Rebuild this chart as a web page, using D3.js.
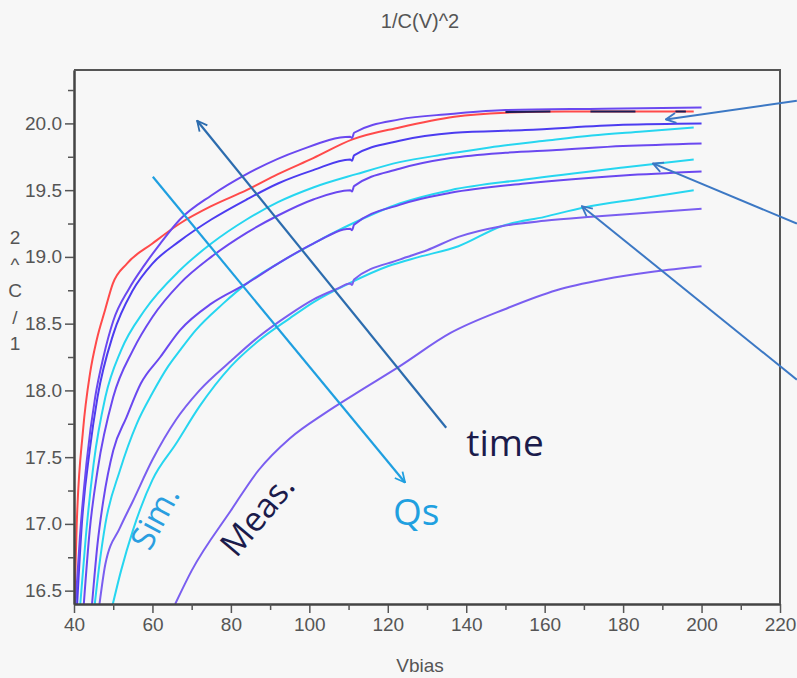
<!DOCTYPE html>
<html>
<head>
<meta charset="utf-8">
<script src="https://cdn.jsdelivr.net/npm/d3@7"></script>
<style>
  html, body { margin: 0; padding: 0; background: #f7f7f7; }
  svg { display: block; }
</style>
</head>
<body>
<svg id="chart"></svg>
<script>
const width = 797, height = 678;
const margin = { top: 70, right: 17, bottom: 74, left: 74 };
const plotWidth = width - margin.left - margin.right;
const plotHeight = height - margin.top - margin.bottom;

// axes
const xDomain = [40, 220];
const yDomain = [16.4, 20.4];
const xMajorTicks = [40, 60, 80, 100, 120, 140, 160, 180, 200, 220];
const xMinorTicks = [50, 70, 90, 110, 130, 150, 170, 190, 210];
const yMajorTicks = [16.5, 17.0, 17.5, 18.0, 18.5, 19.0, 19.5, 20.0];
const yMinorTicks = [16.75, 17.25, 17.75, 18.25, 18.75, 19.25, 19.75, 20.25];
const yLabelChars = ["2", "^", "C", "/", "1"];

// curves [Vbias, 1/C^2]
const redSim = [[40.1,16.4],[40.7,17.0],[42.3,17.7],[44.1,18.13],[45.8,18.38],[47.9,18.6],[49.9,18.8],[53.5,18.95],[60,19.1],[67,19.25],[75,19.38],[84,19.5],[92,19.62],[101,19.74],[111,19.88],[123,19.97],[137,20.05],[150,20.08],[165,20.09],[180,20.09],[198,20.09]];
const measB = [[40.4,16.4],[41.5,16.9],[43.2,17.46],[45.4,17.95],[47.5,18.25],[50,18.52],[54,18.76],[58,18.94],[62,19.1],[67,19.28],[75,19.46],[84,19.62],[97.6,19.8],[110.4,19.9],[110.9,19.89],[111.4,19.93],[123,20.03],[136,20.07],[150,20.1],[175,20.11],[200,20.12]];
const measC = [[40.8,16.4],[42,17.0],[44,17.55],[46,17.95],[50,18.42],[55,18.75],[60,18.95],[67,19.12],[75,19.28],[84,19.43],[92,19.55],[101,19.65],[110.4,19.73],[110.9,19.72],[111.4,19.76],[123,19.87],[137,19.93],[155,19.95],[180,19.99],[200,20.0]];
const simD = [[41.6,16.4],[43,16.9],[45,17.45],[48,17.95],[52,18.3],[58,18.6],[67,18.9],[75,19.1],[84,19.28],[92,19.41],[101,19.52],[112,19.62],[123,19.71],[135,19.77],[146,19.82],[160,19.87],[172,19.91],[185,19.94],[198,19.97]];
const measE = [[42.5,16.4],[44,16.95],[46,17.4],[50,17.95],[55,18.3],[60,18.55],[67,18.8],[75,19.0],[84,19.18],[92,19.31],[101,19.43],[110.4,19.5],[110.9,19.49],[111.4,19.53],[123,19.66],[136,19.74],[150,19.78],[163,19.8],[180,19.83],[200,19.85]];
const simF = [[45.3,16.4],[46.5,16.7],[48,17.0],[51.7,17.4],[56,17.75],[60,17.98],[64,18.18],[67,18.3],[71,18.45],[78,18.65],[84,18.8],[92,18.95],[101,19.1],[111,19.25],[123,19.4],[136,19.5],[155,19.58],[180,19.67],[198,19.73]];
const measG = [[44.6,16.4],[46,16.85],[47.5,17.18],[50,17.55],[53.4,17.8],[57,18.05],[62,18.25],[67,18.45],[75,18.65],[84,18.8],[92,18.95],[101,19.1],[110.4,19.21],[110.9,19.2],[111.4,19.24],[123,19.39],[136,19.48],[155,19.55],[180,19.61],[200,19.64]];
const simH = [[49.9,16.4],[52,16.65],[55,16.95],[60,17.33],[66,17.6],[72,17.88],[80,18.18],[87,18.37],[95,18.54],[101,18.66],[110,18.8],[120,18.93],[128,19.0],[138,19.08],[149,19.23],[160,19.3],[170,19.37],[185,19.44],[198,19.5]];
const measI = [[46.5,16.4],[48,16.7],[51.7,16.97],[55,17.17],[60,17.48],[66,17.78],[72,18.0],[80,18.22],[87,18.4],[95,18.57],[101,18.68],[107,18.76],[110.4,18.8],[110.9,18.79],[111.4,18.83],[123,18.98],[130,19.05],[138,19.15],[149,19.23],[160,19.27],[172,19.3],[186,19.33],[200,19.36]];
const measJ = [[65.8,16.4],[70,16.65],[80,17.1],[87,17.4],[95,17.64],[104,17.83],[112,17.98],[123,18.18],[136,18.43],[150,18.61],[163,18.75],[175,18.83],[188,18.89],[200,18.93]];
const navyTop = [[150,20.085],[165,20.09],[180,20.09],[196,20.09]];

// annotation arrows [x1, y1, x2, y2] in data units, head at (x2, y2)
const timeArrow = [134.9, 17.72, 71.4, 20.02];
const qsArrow = [60.1, 19.60, 124.4, 17.31];
const sideArrows = [
  [224.3, 20.17, 190.9, 20.03],
  [224.3, 19.25, 187.6, 19.70],
  [224.3, 18.08, 169.5, 19.38]
];

const purple = "#6a48f0", bluePurple = "#4c3cf0", lightPurple = "#7a5ef0";
const cyan = "#26d6f0", red = "#ff4a4a", navy = "#1c1c55";

const curves = [
  { data: measJ, color: lightPurple },
  { data: simH, color: cyan },
  { data: measI, color: lightPurple },
  { data: simF, color: cyan },
  { data: measG, color: purple },
  { data: measE, color: purple },
  { data: simD, color: cyan },
  { data: measC, color: bluePurple },
  { data: redSim, color: red },
  { data: measB, color: purple },
  { data: navyTop, color: navy, dash: "45,40" }
];

const svg = d3.select("#chart")
  .attr("width", width)
  .attr("height", height)
  .style("background", "#f7f7f7");

const x = d3.scaleLinear().domain(xDomain).range([margin.left, margin.left + plotWidth]);
const y = d3.scaleLinear().domain(yDomain).range([margin.top + plotHeight, margin.top]);

svg.append("defs").append("clipPath")
  .attr("id", "plot-clip")
  .append("rect")
  .attr("x", margin.left)
  .attr("y", margin.top)
  .attr("width", plotWidth)
  .attr("height", plotHeight);

const markerDefs = svg.select("defs");
[["head-dark", "#2c6cae"], ["head-light", "#1f9fe0"], ["head-side", "#3c78c4"]].forEach(([id, c]) => {
  markerDefs.append("marker")
    .attr("id", id)
    .attr("viewBox", "0 0 12 12")
    .attr("refX", 11).attr("refY", 6)
    .attr("markerWidth", 12).attr("markerHeight", 12)
    .attr("markerUnits", "userSpaceOnUse")
    .attr("orient", "auto")
    .append("path")
    .attr("d", "M1,1 L11,6 L1,11")
    .attr("fill", "none")
    .attr("stroke", c)
    .attr("stroke-width", 1.8);
});

// title
svg.append("text")
  .attr("x", 420).attr("y", 28)
  .attr("text-anchor", "middle")
  .attr("font-family", "Liberation Sans, Arial, sans-serif")
  .attr("font-size", 20)
  .attr("fill", "#555")
  .text("1/C(V)^2");

// curves
const line = d3.line().x(d => x(d[0])).y(d => y(d[1])).curve(d3.curveMonotoneX);
svg.append("g")
  .attr("clip-path", "url(#plot-clip)")
  .selectAll("path")
  .data(curves)
  .join("path")
  .attr("d", d => line(d.data))
  .attr("fill", "none")
  .attr("stroke", d => d.color)
  .attr("stroke-width", 2)
  .attr("stroke-linejoin", "round")
  .attr("stroke-dasharray", d => d.dash || null);

// axes
const axisFont = "Liberation Sans, Arial, sans-serif";
svg.append("g")
  .attr("transform", `translate(0,${margin.top + plotHeight})`)
  .call(d3.axisBottom(x).tickValues(xMajorTicks).tickSize(9).tickPadding(5).tickSizeOuter(0));
svg.append("g")
  .attr("transform", `translate(0,${margin.top + plotHeight})`)
  .call(d3.axisBottom(x).tickValues(xMinorTicks).tickSize(6).tickFormat("").tickSizeOuter(0));
svg.append("g")
  .attr("transform", `translate(${margin.left},0)`)
  .call(d3.axisLeft(y).tickValues(yMajorTicks).tickFormat(d3.format(".1f")).tickSize(9).tickPadding(3).tickSizeOuter(0));
svg.append("g")
  .attr("transform", `translate(${margin.left},0)`)
  .call(d3.axisLeft(y).tickValues(yMinorTicks).tickSize(6).tickFormat("").tickSizeOuter(0));

svg.selectAll(".tick line").attr("stroke", "#555").attr("stroke-width", 1.5);
svg.selectAll(".domain").attr("stroke", "#444").attr("stroke-width", 2);
svg.selectAll(".tick text")
  .attr("font-family", axisFont)
  .attr("font-size", 19)
  .attr("fill", "#555");

// top and right frame
svg.append("path")
  .attr("d", `M${margin.left},${margin.top}H${margin.left + plotWidth}V${margin.top + plotHeight}`)
  .attr("fill", "none")
  .attr("stroke", "#555")
  .attr("stroke-width", 2);

// axis titles
svg.append("text")
  .attr("x", 420).attr("y", 672)
  .attr("text-anchor", "middle")
  .attr("font-family", axisFont)
  .attr("font-size", 19)
  .attr("fill", "#555")
  .text("Vbias");

svg.append("g")
  .selectAll("text")
  .data(yLabelChars)
  .join("text")
  .attr("x", 15)
  .attr("y", (d, i) => 244 + i * 26.5)
  .attr("text-anchor", "middle")
  .attr("font-family", axisFont)
  .attr("font-size", 19)
  .attr("fill", "#555")
  .text(d => d);

// annotation arrows
function arrow(a, color, marker, w) {
  svg.append("line")
    .attr("x1", x(a[0])).attr("y1", y(a[1]))
    .attr("x2", x(a[2])).attr("y2", y(a[3]))
    .attr("stroke", color)
    .attr("stroke-width", w)
    .attr("marker-end", `url(#${marker})`);
}
arrow(timeArrow, "#2c6cae", "head-dark", 2.2);
arrow(qsArrow, "#1f9fe0", "head-light", 2.2);
sideArrows.forEach(a => arrow(a, "#3c78c4", "head-side", 2));

// labels
const labelFont = "Open Sans, Noto Sans, sans-serif";
svg.append("text")
  .attr("x", x(140)).attr("y", y(17.51))
  .attr("font-family", labelFont)
  .attr("font-size", 37)
  .attr("fill", "#1b1b4b")
  .text("time");

svg.append("text")
  .attr("x", x(121.3)).attr("y", y(16.99))
  .attr("font-family", labelFont)
  .attr("font-size", 37)
  .attr("fill", "#1fa0e0")
  .text("Qs");

svg.append("text")
  .attr("transform", `translate(${x(60.4)},${y(17.05)}) rotate(-62)`)
  .attr("text-anchor", "middle")
  .attr("dominant-baseline", "central")
  .attr("font-family", labelFont)
  .attr("font-size", 33)
  .attr("fill", "#2a9ee0")
  .text("Sim.");

svg.append("text")
  .attr("transform", `translate(${x(86.5)},${y(17.07)}) rotate(-50)`)
  .attr("text-anchor", "middle")
  .attr("dominant-baseline", "central")
  .attr("font-family", labelFont)
  .attr("font-size", 34)
  .attr("fill", "#1b1b4b")
  .text("Meas.");
</script>
</body>
</html>
